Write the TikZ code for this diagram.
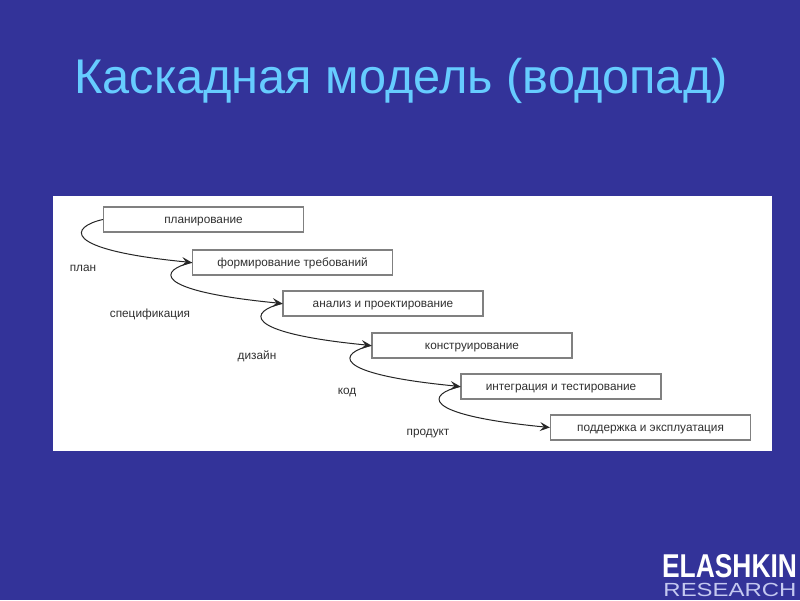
\documentclass[tikz,border=0pt]{standalone}
\usepackage{fontspec}
\setmainfont{Liberation Sans}
\usetikzlibrary{arrows.meta}
\definecolor{slidebg}{HTML}{333399}
\definecolor{titleblue}{HTML}{66CCFF}
\definecolor{logolight}{HTML}{C4C8F0}
\definecolor{boxline}{HTML}{808080}
\definecolor{boxtext}{HTML}{303030}
\begin{document}
\begin{tikzpicture}[x=1pt,y=-1pt]

		\tikzstyle{stagebox} = [draw=boxline, line width=1.2pt, fill=white, minimum width=200pt, minimum height=25pt, inner sep=0pt, text=boxtext, text height=8pt, text depth=0pt, font=\fontsize{11.8}{12}\selectfont]
		\tikzstyle{artefact} = [inner sep=0pt, text=boxtext, text height=8pt, text depth=0pt, font=\fontsize{11.8}{12}\selectfont]
		\tikzstyle{flow}     = [draw=black!85, line width=1pt, -{Stealth[length=10pt, width=9pt, inset=4pt]}]

		\path [fill=slidebg] (0,0) rectangle (800,600);
		\useasboundingbox (0,0) rectangle (800,600);

		\node [inner sep=0pt, text=titleblue, font=\fontsize{48.7}{54}\selectfont](title) at (401,81) {Каскадная модель (водопад)};
		\node [fill=white, inner sep=0pt, minimum width=719pt, minimum height=255pt](panel) at (412.5,323.5) {};

		\node [stagebox](s1) at (203.5,219.5) {планирование};
		\node [stagebox](s2) at (292.5,262.5) {формирование требований};
		\node [stagebox](s3) at (383,303.5) {анализ и проектирование};
		\node [stagebox](s4) at (472,345.5) {конструирование};
		\node [stagebox](s5) at (561,386.5) {интеграция и тестирование};
		\node [stagebox](s6) at (650.5,427.5) {поддержка и эксплуатация};

		\draw [flow] (s1.west) .. controls +(-32,7) and +(-134,-13) .. (s2.west);
		\draw [flow] (s2.west) .. controls +(-32,7) and +(-134,-13) .. (s3.west);
		\draw [flow] (s3.west) .. controls +(-32,7) and +(-134,-13) .. (s4.west);
		\draw [flow] (s4.west) .. controls +(-32,7) and +(-134,-13) .. (s5.west);
		\draw [flow] (s5.west) .. controls +(-32,7) and +(-134,-13) .. (s6.west);

		\node [artefact](plan) at (83,267) {план};
		\node [artefact](spec) at (150,313) {спецификация};
		\node [artefact](design) at (257,355) {дизайн};
		\node [artefact](code) at (347,390) {код};
		\node [artefact](product) at (428,431) {продукт};

		\node [inner sep=0pt, text=white, font=\fontsize{33}{33}\bfseries\selectfont, xscale=0.8](logotop) at (729.5,566.5) {ELASHKIN};
		\node [inner sep=0pt, text=logolight, font=\fontsize{19}{19}\selectfont, xscale=1.26](logobottom) at (730,589.5) {RESEARCH};
\end{tikzpicture}
\end{document}
